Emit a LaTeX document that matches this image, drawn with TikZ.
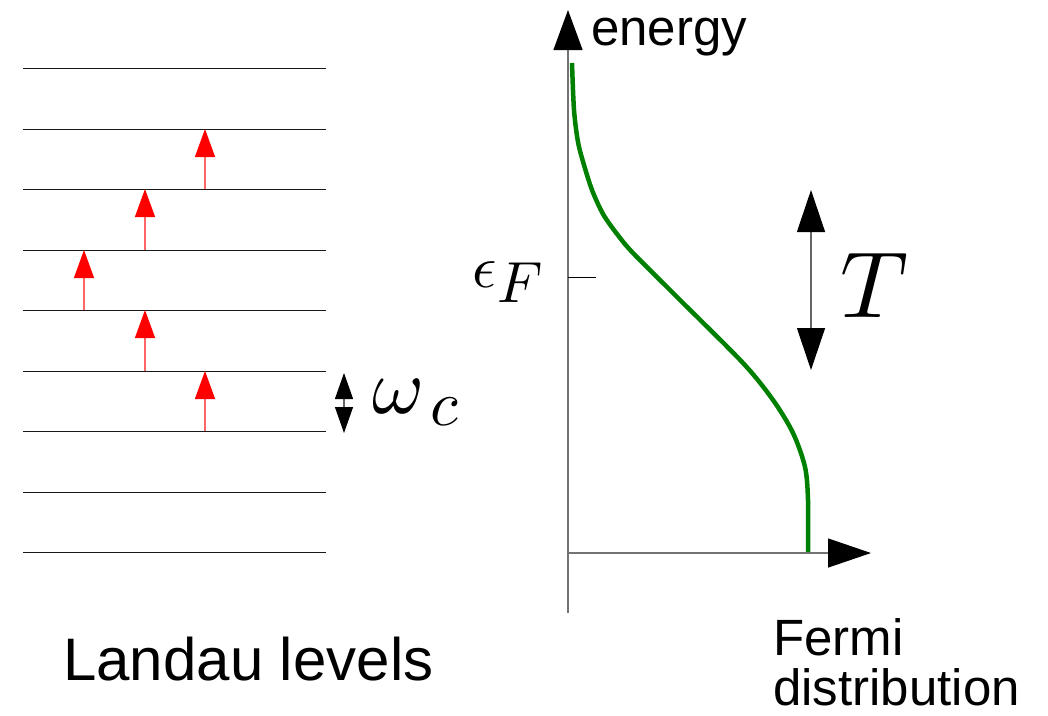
\documentclass[tikz,border=0pt]{standalone}
\usepackage{graphicx}
\usepackage{fontspec}
\setmainfont{Liberation Sans}
\usetikzlibrary{arrows.meta}
\begin{document}
\begin{tikzpicture}[x=1pt,y=-1pt,
  level/.style={line width=1pt, black!90},
  jump/.style={line width=1.3pt, red!60, -{Triangle[length=28pt,width=20pt,red]}},
  axis/.style={line width=1.3pt, black!55},
  lbl/.style={inner sep=0pt, anchor=base west},
  fermi/.style={line width=4.5pt, green!50!black}]
\useasboundingbox (0,0) rectangle (1048,715);
% Landau levels
\foreach \i/\y in {1/68,2/129,3/189,4/250,5/310,6/371,7/431,8/492,9/552}{
  \coordinate (L\i a) at (23,\y);
  \coordinate (L\i b) at (326,\y);
  \draw[level] (L\i a) -- (L\i b);
}
% transitions
\coordinate (j1a) at (205,189); \coordinate (j1b) at (205,129);
\coordinate (j2a) at (145,250); \coordinate (j2b) at (145,189);
\coordinate (j3a) at (84,310);  \coordinate (j3b) at (84,250);
\coordinate (j4a) at (145,371); \coordinate (j4b) at (145,310);
\coordinate (j5a) at (205,431); \coordinate (j5b) at (205,371);
\foreach \k in {1,...,5}{\draw[jump] (j\k a) -- (j\k b);}
% omega_c spacing arrow
\coordinate (wa) at (344,373); \coordinate (wb) at (344,433);
\draw[line width=1.2pt, black!60, {Triangle[length=26pt,width=18pt,black]}-{Triangle[length=26pt,width=18pt,black]}] (wa) -- (wb);
\node[lbl] (omega) at (372,413) {\scalebox{7.9}{$\omega$}\kern6pt\raisebox{-12pt}{\scalebox{6.4}{$c$}}};
\node[lbl] (landau) at (63,680) {\fontsize{60}{62}\selectfont Landau levels};
% axes
\coordinate (O) at (568,553);
\coordinate (ybot) at (568,613);
\coordinate (ytop) at (568,10);
\coordinate (xend) at (871,553);
\draw[axis, -{Triangle[length=40pt,width=29pt,black]}] (ybot) -- (ytop);
\draw[axis, -{Triangle[length=43pt,width=29pt,black]}] (O) -- (xend);
\node[lbl] (energy) at (591,45) {\fontsize{51}{54}\selectfont energy};
\node[lbl] (fermi) at (773,655) {\fontsize{51}{45}\selectfont\begin{tabular}[t]{@{}l@{}}Fermi\\distribution\end{tabular}};
% Fermi level tick
\coordinate (t1) at (568,277); \coordinate (t2) at (596,277);
\draw[line width=1pt, black] (t1) -- (t2);
\node[lbl] (eF) at (472,287) {\scalebox{6}{$\epsilon$}\kern1pt\raisebox{-15pt}{\scalebox{5.8}{$F$}}};
% Fermi distribution curve
\draw[fermi] plot[smooth, tension=0.5] coordinates {(572,63) (574,110) (578,142) (584,165) (592,190) (603,214) (617,234) (633,253) (678,298) (743,363) (773,400) (793,433) (805,467) (808,500) (808,552)};
% temperature arrow
\coordinate (Ta) at (811,190); \coordinate (Tb) at (811,370);
\draw[line width=1.3pt, black!60, {Triangle[length=42pt,width=28pt,black]}-{Triangle[length=42pt,width=28pt,black]}] (Ta) -- (Tb);
\node[lbl] (T) at (840,317) {\scalebox{9.4}{$T$}};
\end{tikzpicture}
\end{document}
